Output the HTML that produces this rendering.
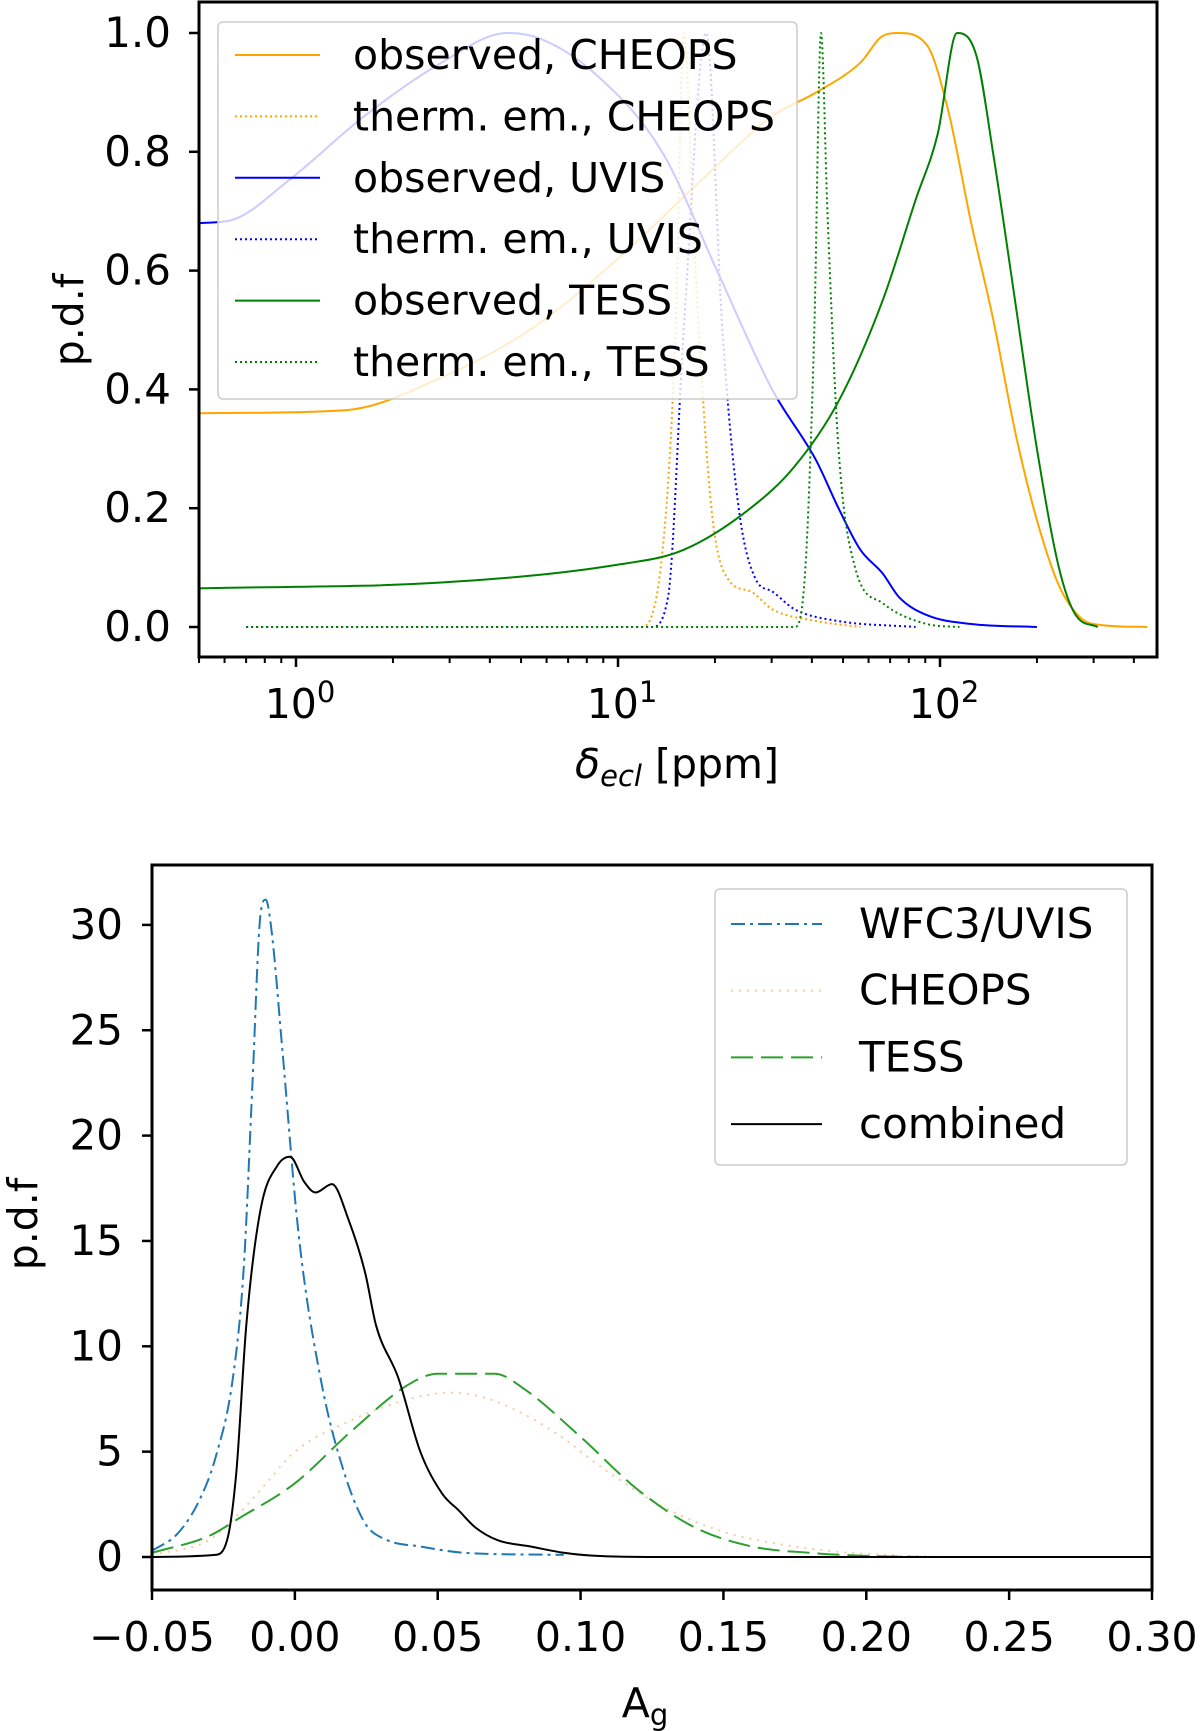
<!DOCTYPE html>
<html><head><meta charset="utf-8"><style>
html,body{margin:0;padding:0;background:#fff}
svg{display:block;font-family:"DejaVu Sans","Liberation Sans",sans-serif}
</style></head><body>
<svg id="fig" width="1200" height="1731" viewBox="0 0 1200 1731" xmlns="http://www.w3.org/2000/svg">
<g id="top"></g>
<g id="bot"></g>
</svg>
<script>
// ---- Top panel data (x in ppm, y pdf) ----
const obsCheopsX=[0.495,1.42,2.83,5.32,10,18.8,30.1,41.3,56.6,66.4,74.7,91.0,106,125,146,171,200,234,274,321,440];
const obsCheopsY=[0.36,0.365,0.42,0.5,0.62,0.76,0.86,0.9,0.95,0.995,1.0,0.98,0.87,0.68,0.52,0.33,0.18,0.07,0.015,0.003,0.0];
const thCheopsX=[0.7,11.7,13.7,15.1,16.0,17.4,19.5,22.0,25.8,30.1,41.3,56.6];
const thCheopsY=[0,0,0.12,0.5,1.0,0.6,0.2,0.08,0.06,0.03,0.01,0];
const obsUvisX=[0.495,0.63,0.94,1.63,2.83,4.54,5.76,8.55,13.7,20.3,30.1,41.3,48.4,56.6,66.4,74.7,91.0,125,200];
const obsUvisY=[0.68,0.685,0.75,0.86,0.95,1.0,0.99,0.93,0.8,0.6,0.4,0.28,0.2,0.13,0.09,0.05,0.02,0.005,0.0];
const thUvisX=[0.7,12.7,14.3,16.0,18.8,21.1,23.7,26.8,30.1,35.3,48.4,84];
const thUvisY=[0,0,0.05,0.5,1.0,0.5,0.2,0.08,0.06,0.03,0.01,0];
const obsTessX=[0.495,2.83,10,16.0,25.8,35.3,48.4,66.4,84.1,98.4,113,130,146,171,200,234,264,309];
const obsTessY=[0.065,0.075,0.105,0.13,0.2,0.27,0.38,0.55,0.72,0.83,1.0,0.96,0.8,0.55,0.3,0.1,0.02,0.0];
const thTessX=[0.7,35.3,38.2,40.7,42.7,44.7,48.4,54.5,66.4,91.0,115];
const thTessY=[0,0,0.1,0.5,1.0,0.7,0.3,0.1,0.04,0.005,0];
const topYTicks=[0,0.2,0.4,0.6,0.8,1.0];
const topYTickLabels=["0.0","0.2","0.4","0.6","0.8","1.0"];
const topXDecades=[0,1,2];
const legendTop=["observed, CHEOPS","therm. em., CHEOPS","observed, UVIS","therm. em., UVIS","observed, TESS","therm. em., TESS"];
// ---- Bottom panel data ----
const uvisAgX=[-0.05,-0.0411,-0.0334,-0.0276,-0.0218,-0.0179,-0.0148,-0.0121,-0.0102,-0.0083,-0.0044,0.0014,0.0091,0.0168,0.0246,0.0323,0.0439,0.0594,0.0941];
const uvisAgY=[0.3,1.1,2.7,4.8,8.4,13.7,22.6,30.4,31.2,29.9,24.1,15.2,8.4,4.2,1.6,0.8,0.5,0.2,0.1];
const cheopsAgX=[-0.05,-0.03,-0.02,-0.01,0,0.02,0.04,0.055,0.07,0.09,0.11,0.13,0.15,0.17,0.19,0.21,0.23];
const cheopsAgY=[0.1,0.8,2,3.5,5,6.5,7.5,7.8,7.4,6.0,4.0,2.3,1.2,0.6,0.25,0.08,0];
const tessAgX=[-0.05,-0.03,-0.02,0,0.02,0.04,0.05,0.07,0.08,0.10,0.12,0.14,0.16,0.18,0.20,0.22];
const tessAgY=[0.2,1.0,1.8,3.5,6.0,8.2,8.7,8.7,8.0,5.7,3.2,1.4,0.5,0.2,0.05,0];
const combAgX=[-0.05,-0.028,-0.0237,-0.0205,-0.017,-0.012,-0.006,-0.0017,0.0033,0.0072,0.013,0.0188,0.0246,0.0284,0.0362,0.0439,0.0516,0.0574,0.0632,0.0709,0.0825,0.0941,0.1057,0.129,0.30];
const combAgY=[0,0.1,0.8,4,11,16.5,18.6,19,17.8,17.3,17.7,16,13.5,11,8.5,5,3,2.2,1.4,0.8,0.5,0.2,0.05,0,0];
const botXTicks=[-0.05,0,0.05,0.10,0.15,0.20,0.25,0.30];
const botXTickLabels=["\u22120.05","0.00","0.05","0.10","0.15","0.20","0.25","0.30"];
const botYTicks=[0,5,10,15,20,25,30];
const legendBot=["WFC3/UVIS","CHEOPS","TESS","combined"];

const NS="http://www.w3.org/2000/svg";
function mk(parent,tag,attrs,text){const e=document.createElementNS(NS,tag);for(const k in attrs)e.setAttribute(k,attrs[k]);if(text!==undefined)e.textContent=text;parent.appendChild(e);return e;}
// monotone cubic (Fritsch-Carlson) in pixel space — no overshoot
function pathFrom(xs,ys,fx,fy){
 const X=xs.map(fx),Y=ys.map(fy),n=X.length;
 const d=[],m=new Array(n);
 for(let i=0;i<n-1;i++)d.push((Y[i+1]-Y[i])/(X[i+1]-X[i]));
 m[0]=d[0];m[n-1]=d[n-2];
 for(let i=1;i<n-1;i++){m[i]=(d[i-1]*d[i]<=0)?0:(d[i-1]+d[i])/2;}
 for(let i=0;i<n-1;i++){
  if(d[i]===0){m[i]=0;m[i+1]=0;continue;}
  const a=m[i]/d[i],b=m[i+1]/d[i],s=a*a+b*b;
  if(s>9){const t=3/Math.sqrt(s);m[i]=t*a*d[i];m[i+1]=t*b*d[i];}
 }
 let p='M'+X[0].toFixed(1)+','+Y[0].toFixed(1);
 for(let i=0;i<n-1;i++){
  const h=(X[i+1]-X[i])/3;
  p+=' C'+(X[i]+h).toFixed(1)+','+(Y[i]+m[i]*h).toFixed(1)+' '+(X[i+1]-h).toFixed(1)+','+(Y[i+1]-m[i+1]*h).toFixed(1)+' '+X[i+1].toFixed(1)+','+Y[i+1].toFixed(1);
 }
 return p;
}

// ===== TOP =====
const T=document.getElementById('top');
const tL=199,tR=1157,tT=2,tB=657;
const xT=v=>296+322*Math.log10(v);
const yT=v=>627-594*v;
const clipT=mk(T,'clipPath',{id:'clipT'});mk(clipT,'rect',{x:tL,y:tT,width:tR-tL,height:tB-tT});
const topSeries=[
 [obsCheopsX,obsCheopsY,'#ffa500','','observed-cheops-line'],
 [thCheopsX,thCheopsY,'#ffa500','2,3','thermal-cheops-line'],
 [obsUvisX,obsUvisY,'#0000ff','','observed-uvis-line'],
 [thUvisX,thUvisY,'#0000ff','2,3','thermal-uvis-line'],
 [obsTessX,obsTessY,'#008000','','observed-tess-line'],
 [thTessX,thTessY,'#008000','2,3','thermal-tess-line']];
const gT=mk(T,'g',{'clip-path':'url(#clipT)'});
topSeries.forEach(s=>{
 const p=mk(gT,'path',{d:pathFrom(s[0],s[1],xT,yT),fill:'none',stroke:s[2],'stroke-width':2,'stroke-dasharray':s[3]});
 
 
});
const lgT=mk(T,'g',{});


mk(lgT,'rect',{x:218,y:22,width:579,height:377,rx:5,fill:'#fff','fill-opacity':0.8,stroke:'#ccc','stroke-width':1.5});
legendTop.forEach((t,i)=>{
 const y=55+i*61.4;
 const s=topSeries[i];
 const e=mk(lgT,'g',{});
 
 
 mk(e,'line',{x1:235,x2:320,y1:y,y2:y,stroke:s[2],'stroke-width':2,'stroke-dasharray':s[3]});
 mk(e,'text',{x:353,y:y+14,'font-size':41,fill:'#000'},t);
});
mk(T,'rect',{x:tL,y:tT,width:tR-tL,height:tB-tT,fill:'none',stroke:'#000','stroke-width':3});
topYTicks.forEach((v,i)=>{
 mk(T,'line',{x1:tL-10,x2:tL,y1:yT(v),y2:yT(v),stroke:'#000','stroke-width':2.5});
 const t=mk(T,'text',{x:tL-28,y:yT(v)+14,'font-size':42,'text-anchor':'end'},topYTickLabels[i]);
 
 
});
for(let d=-1;d<=2;d++){for(let m=1;m<10;m++){const v=m*Math.pow(10,d);const x=xT(v);if(x<tL-0.5||x>tR+0.5)continue;
 mk(T,'line',{x1:x,x2:x,y1:tB,y2:tB+(m===1?10:6),stroke:'#000','stroke-width':m===1?2.5:2});}}
topXDecades.forEach(d=>{
 const t=mk(T,'text',{x:xT(Math.pow(10,d))+4,y:718,'font-size':41,'text-anchor':'middle'});
 
 
 mk(t,'tspan',{},'10');mk(t,'tspan',{dy:-16,'font-size':29},String(d));
});
const ylt=mk(T,'text',{x:0,y:0,'font-size':41,'text-anchor':'middle',transform:'translate(83,320) rotate(-90)'},'p.d.f');

const xlt=mk(T,'text',{x:677,y:778,'font-size':41,'text-anchor':'middle'});

mk(xlt,'tspan',{'font-style':'italic'},'δ');mk(xlt,'tspan',{'font-style':'italic','font-size':29,dy:8},'ecl');mk(xlt,'tspan',{dy:-8},' [ppm]');

// ===== BOTTOM =====
const B=document.getElementById('bot');
const bL=152,bR=1152,bT=865,bB=1590;
const xB=v=>bL+(v+0.05)/0.35*(bR-bL);
const yB=v=>1557-21.07*v;
const clipB=mk(B,'clipPath',{id:'clipB'});mk(clipB,'rect',{x:bL,y:bT,width:bR-bL,height:bB-bT});
const botSeries=[
 [uvisAgX,uvisAgY,'#1f77b4','14,5,3,5',2,'uvis-albedo-line'],
 [cheopsAgX,cheopsAgY,'#fcc9a0','2,6',2,'cheops-albedo-line'],
 [tessAgX,tessAgY,'#2ca02c','22,8',2,'tess-albedo-line'],
 [combAgX,combAgY,'#000','',2,'combined-albedo-line']];
const gB=mk(B,'g',{'clip-path':'url(#clipB)'});
botSeries.forEach(s=>{
 const p=mk(gB,'path',{d:pathFrom(s[0],s[1],xB,yB),fill:'none',stroke:s[2],'stroke-width':s[4],'stroke-dasharray':s[3]});
 
 
});
const lgB=mk(B,'g',{});


mk(lgB,'rect',{x:715,y:889,width:412,height:276,rx:5,fill:'#fff','fill-opacity':0.8,stroke:'#ccc','stroke-width':1.5});
legendBot.forEach((t,i)=>{
 const y=924+i*66.7;const s=botSeries[i];
 const e=mk(lgB,'g',{});
 
 
 mk(e,'line',{x1:731,x2:822,y1:y,y2:y,stroke:s[2],'stroke-width':2,'stroke-dasharray':s[3]});
 mk(e,'text',{x:859,y:y+14,'font-size':42},t);
});
mk(B,'rect',{x:bL,y:bT,width:bR-bL,height:bB-bT,fill:'none',stroke:'#000','stroke-width':3});
botXTicks.forEach((v,i)=>{
 const x=xB(v);
 mk(B,'line',{x1:x,x2:x,y1:bB,y2:bB+10,stroke:'#000','stroke-width':2.5});
 const t=mk(B,'text',{x:x,y:1651,'font-size':41,'text-anchor':'middle'},botXTickLabels[i]);
 
 
});
botYTicks.forEach(v=>{
 const y=yB(v);
 mk(B,'line',{x1:bL-10,x2:bL,y1:y,y2:y,stroke:'#000','stroke-width':2.5});
 const t=mk(B,'text',{x:bL-29,y:y+14,'font-size':42,'text-anchor':'end'},String(v));
 
 
});
const ylb=mk(B,'text',{x:0,y:0,'font-size':41,'text-anchor':'middle',transform:'translate(37,1224) rotate(-90)'},'p.d.f');

const xlb=mk(B,'text',{x:645,y:1717,'font-size':41,'text-anchor':'middle'});

mk(xlb,'tspan',{},'A');mk(xlb,'tspan',{'font-size':29,dy:8},'g');
</script>
</body></html>
